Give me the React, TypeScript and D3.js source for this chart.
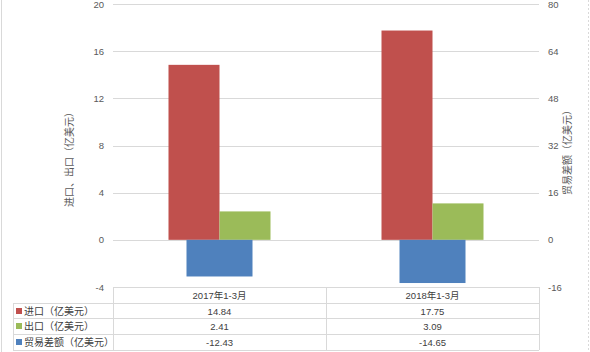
import React from "react";
import * as d3 from "d3";

const categories = ["2017年1-3月", "2018年1-3月"];
const seriesNames = ["进口（亿美元）", "出口（亿美元）", "贸易差额（亿美元）"];
const imports = [14.84, 17.75];
const exportsV = [2.41, 3.09];
const balance = [-12.43, -14.65];
const leftTicks = [-4, 0, 4, 8, 12, 16, 20];
const rightTicks = [-16, 0, 16, 32, 48, 64, 80];
const colors = ["#c0504d", "#9bbb59", "#4f81bd"];

const W = 590;
const H = 352;
const font = "'Liberation Sans', 'Noto Sans CJK SC', sans-serif";

const App = () => {
  const plotLeft = 113;
  const plotRight = 539;
  const yL = d3.scaleLinear().domain([-4, 20]).range([287, 4]);
  const yR = d3.scaleLinear().domain([-16, 80]).range([287, 4]);
  const x = d3.scaleBand().domain(categories).range([plotLeft, plotRight]);
  // primary bars: 2 bars of ~51px each, centered on category
  const inner = d3.scaleBand().domain(["imp", "exp"]).range([-51, 51]);
  const blueW = 66;

  const rowTops = [287, 303, 318, 334, 350];
  const tableLeft = 13;
  const rows = [imports, exportsV, balance];

  return (
    <svg
      width={W}
      height={H}
      style={{ position: "absolute", left: 0, top: 0, background: "#fff" }}
      fontFamily={font}
    >
      <rect x={0} y={0} width={W} height={H} fill="#fff" />
      <line x1={1.5} x2={1.5} y1={0} y2={H} stroke="#d9d9d9" />
      <line x1={588.5} x2={588.5} y1={0} y2={H} stroke="#d9d9d9" strokeDasharray="2,2" />

      {/* gridlines */}
      {leftTicks.filter((t) => t > -4).map((t) => (
        <line key={t} x1={plotLeft} x2={plotRight} y1={Math.round(yL(t)) + 0.5} y2={Math.round(yL(t)) + 0.5} stroke="#d9d9d9" />
      ))}

      {/* left ticks */}
      {leftTicks.map((t) => (
        <text key={t} x={104} y={yL(t) + 3.5} textAnchor="end" fontSize={9.5} fill="#595959">{t}</text>
      ))}
      {/* right ticks */}
      {rightTicks.map((t) => (
        <text key={t} x={548} y={yR(t) + 3.5} textAnchor="start" fontSize={9.5} fill="#595959">{t}</text>
      ))}

      {/* axis titles */}
      <text transform={`translate(73,157) rotate(-90)`} textAnchor="middle" fontSize={10} fill="#595959">进口、出口（亿美元）</text>
      <text transform={`translate(571,150) rotate(-90)`} textAnchor="middle" fontSize={10} fill="#595959">贸易差额（亿美元）</text>

      {/* bars */}
      {categories.map((c, i) => {
        const cx = (x(c) as number) + x.bandwidth() / 2;
        return (
          <g key={c}>
            <rect x={cx + (inner("imp") as number)} y={yL(imports[i])} width={inner.bandwidth()} height={yL(0) - yL(imports[i])} fill={colors[0]} />
            <rect x={cx + (inner("exp") as number)} y={yL(exportsV[i])} width={inner.bandwidth()} height={yL(0) - yL(exportsV[i])} fill={colors[1]} />
            <rect x={cx - blueW / 2} y={yR(0)} width={blueW} height={yR(balance[i]) - yR(0)} fill={colors[2]} />
          </g>
        );
      })}

      {/* data table */}
      <g stroke="#d9d9d9" fill="none">
        <line x1={plotLeft} x2={plotRight} y1={rowTops[0] + 0.5} y2={rowTops[0] + 0.5} />
        {rowTops.slice(1).map((r) => (
          <line key={r} x1={tableLeft} x2={plotRight} y1={r + 0.5} y2={r + 0.5} />
        ))}
        <line x1={tableLeft + 0.5} x2={tableLeft + 0.5} y1={rowTops[1]} y2={rowTops[4]} />
        {categories.map((c) => (
          <line key={c} x1={Math.round(x(c) as number) + 0.5} x2={Math.round(x(c) as number) + 0.5} y1={rowTops[0]} y2={rowTops[4]} />
        ))}
        <line x1={plotRight + 0.5} x2={plotRight + 0.5} y1={rowTops[0]} y2={rowTops[4]} />
      </g>
      {categories.map((c) => (
        <text key={c} x={(x(c) as number) + x.bandwidth() / 2} y={rowTops[0] + 11.5} textAnchor="middle" fontSize={9.5} fill="#404040">{c}</text>
      ))}
      {rows.map((vals, ri) => (
        <g key={ri}>
          <rect x={16} y={rowTops[ri + 1] + 5} width={6} height={6} fill={colors[ri]} />
          <text x={24} y={rowTops[ri + 1] + 11.5} fontSize={10} fill="#404040">{seriesNames[ri]}</text>
          {vals.map((v, ci) => (
            <text key={ci} x={(x(categories[ci]) as number) + x.bandwidth() / 2} y={rowTops[ri + 1] + 11.5} textAnchor="middle" fontSize={9.5} fill="#404040">{v.toFixed(2)}</text>
          ))}
        </g>
      ))}
    </svg>
  );
};

export default App;
